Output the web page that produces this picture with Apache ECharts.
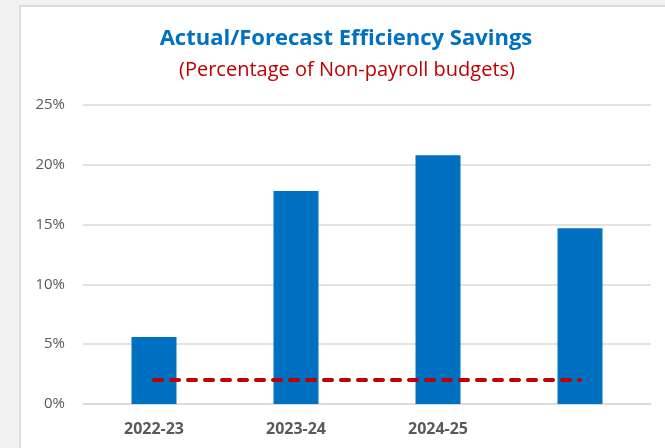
<!DOCTYPE html>
<html>
<head>
<meta charset="utf-8">
<script src="https://cdn.jsdelivr.net/npm/echarts@6/dist/echarts.min.js"></script>
<style>
  html, body { margin: 0; padding: 0; background: #f2f2f2; }
  #panel { position: absolute; left: 19px; top: 5px; width: 646px; height: 443px;
           background: #fff; border-left: 2px solid #dcdcdc; border-top: 2px solid #dcdcdc; box-sizing: border-box; }
  #myChart { position: absolute; left: 0; top: 0; width: 665px; height: 448px; }
</style>
</head>
<body>
<div id="panel"></div>
<div id="myChart"></div>
<script>
  // data
  const categories = ['2022-23', '2023-24', '2024-25', ''];
  const savings = [5.6, 17.8, 20.8, 14.7];
  const target = [2, 2, 2, 2];
  const yTicks = [0, 5, 10, 15, 20, 25];

  let myChart = echarts.init(document.getElementById('myChart'));
  myChart.setOption({
    backgroundColor: 'transparent',
    animation: false,
    title: [
      {
        text: 'Actual/Forecast Efficiency Savings',
        left: 341, top: 23, textAlign: 'center',
        textStyle: { color: '#0070c0', fontSize: 22, fontWeight: 'bold', fontFamily: 'Open Sans' }
      },
      {
        text: '(Percentage of Non-payroll budgets)',
        left: 342, top: 55, textAlign: 'center',
        textStyle: { color: '#c00000', fontSize: 20, fontWeight: 'normal', fontFamily: 'Open Sans' }
      }
    ],
    grid: { left: 83, right: 14, top: 105, bottom: 44 },
    xAxis: {
      type: 'category',
      data: categories,
      axisTick: { show: false },
      axisLine: { lineStyle: { color: '#d9d9d9', width: 1.5 } },
      axisLabel: { color: '#595959', fontSize: 16, fontWeight: 'bold', margin: 17, fontFamily: 'Open Sans' }
    },
    yAxis: {
      type: 'value',
      min: yTicks[0],
      max: yTicks[yTicks.length - 1],
      interval: 5,
      axisLine: { show: false },
      axisTick: { show: false },
      splitLine: { lineStyle: { color: '#d9d9d9', width: 1.5 } },
      axisLabel: { color: '#595959', fontSize: 15, margin: 18, formatter: '{value}%', fontFamily: 'Open Sans' }
    },
    series: [
      {
        name: 'Savings',
        type: 'bar',
        data: savings,
        barWidth: 45,
        itemStyle: { color: '#0070c0' }
      },
      {
        name: 'Target',
        type: 'line',
        data: target,
        symbol: 'none',
        lineStyle: { color: '#c00000', width: 4, type: [8, 9], cap: 'round' },
        z: 3
      }
    ]
  });
</script>
</body>
</html>
